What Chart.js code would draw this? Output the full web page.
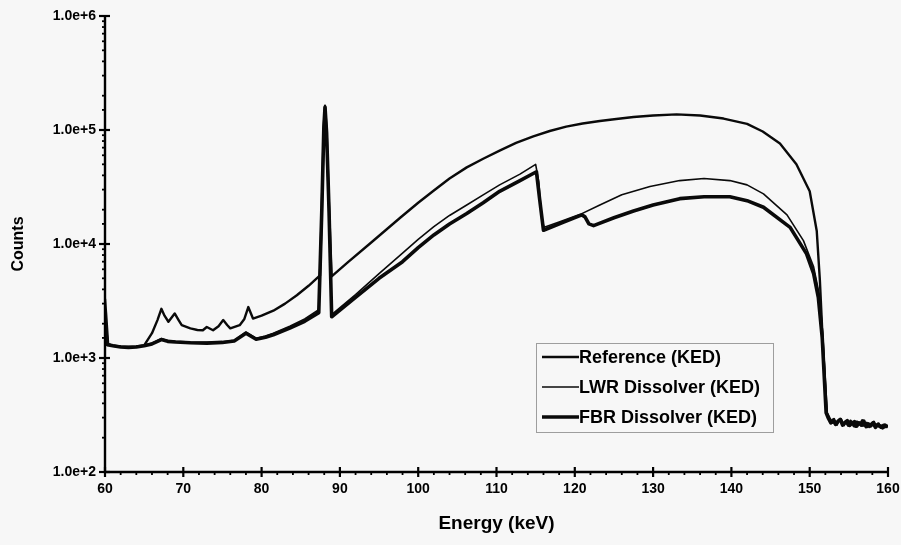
<!DOCTYPE html>
<html><head><meta charset="utf-8">
<script src="https://cdn.jsdelivr.net/npm/chart.js@4.4.0/dist/chart.umd.min.js"></script>
<style>html,body{margin:0;padding:0;background:#f7f7f7;}#wrap{width:901px;height:545px;}</style>
</head><body><div id="wrap"><canvas id="c" width="901" height="545"></canvas></div>
<script>
// ---------- data ----------
const refEnergy = [60.0,60.15,60.4,61,62,63,64,65.0,66,66.7,67.2,67.6,68.1,68.9,69.4,69.8,70.9,71.8,72.5,73.0,73.8,74.5,75.1,75.6,76.0,77.2,77.8,78.3,78.9,80,81.5,83,84.5,86,87.46,87.7,87.95,88.1,88.3,88.6,88.95,91,94,97.7,100,102,104,106.2,108.3,110.4,112.5,114.7,116.8,118.9,121,123.2,125.3,127.5,130,133,136,139,142,144,146.2,148.3,150,150.9,151.3,151.7,152.2,
  152.5,152.8,153.1,153.4,153.7,154.0,154.3,154.6,154.9,155.2,155.5,155.8,156.1,156.4,156.7,157.0,157.3,157.6,157.9,158.2,158.5,158.8,159.1,159.4,159.7,160];
const refCounts = [3300,2400,1320,1280,1260,1250,1260,1290,1650,2150,2700,2350,2080,2460,2150,1940,1820,1760,1750,1870,1750,1900,2150,1950,1820,1940,2200,2800,2220,2350,2600,3000,3550,4300,5300,22000,110000,163000,100000,22000,5200,6900,10300,17000,23000,29500,37500,47000,56000,66000,77000,88000,98000,107000,114000,120000,125000,130000,134000,137000,134000,126000,113000,97000,76000,50000,29000,13000,4800,1250,330,
  300,275,292,262,282,290,262,275,255,282,268,250,276,262,284,256,270,248,266,276,250,266,244,260,248,256];

const lwrEnergy = [60.0,60.3,61,62,63,64,65,66,67.2,68,69,70.9,73,75,76.5,78.0,79.3,80.5,81.5,83.6,85.5,87.3,87.7,87.95,88.1,88.3,88.6,88.95,92,95,98,100,102,104,106.2,108.3,110.4,113,115.0,115.4,115.8,116.1,118,120.7,123.2,126,129.6,133.4,136.5,139.8,142,144.1,147.1,149.2,150.5,151.3,151.7,152.2,
  152.6,152.9,153.2,153.5,153.8,154.1,154.4,154.7,155.0,155.3,155.6,155.9,156.2,156.5,156.8,157.1,157.4,157.7,158.0,158.3,158.6,158.9,159.2,159.5,159.8,160];
const lwrCounts = [2200,1330,1290,1260,1250,1260,1290,1350,1480,1420,1400,1380,1370,1390,1430,1690,1490,1560,1650,1900,2200,2650,22000,110000,160000,100000,22000,2400,3600,5500,8300,11000,14200,17800,22000,27000,33000,41000,50000,35000,16000,14000,15600,18200,22000,27000,32000,36000,37500,36000,33000,27500,18000,10700,6300,3400,1500,330,
  285,268,280,258,286,270,255,278,262,272,250,280,258,270,252,268,246,262,272,250,262,246,258,244,254,250];

const fbrEnergy = [60.0,60.3,61,62,63,64,65,66,67.2,68,69,70.9,73,75,76.5,78.0,79.3,80.5,81.5,83.6,85.5,87.3,87.7,87.95,88.1,88.3,88.6,88.95,92,95,98,100,102,104,106.2,108.3,110.4,113,115.1,115.5,116.0,118.5,120.9,121.3,121.8,122.4,125,127.5,130,133.4,136.5,139.8,142,144.1,147.5,149.6,150.5,151.1,151.6,152.1,
  152.4,152.7,153.0,153.3,153.6,153.9,154.2,154.5,154.8,155.1,155.4,155.7,156.0,156.3,156.6,156.9,157.2,157.5,157.8,158.1,158.4,158.7,159.0,159.3,159.6,160];
const fbrCounts = [2000,1310,1280,1250,1240,1250,1280,1330,1450,1400,1380,1360,1350,1370,1410,1650,1460,1520,1600,1830,2100,2500,21000,105000,158000,95000,21000,2300,3400,5000,7000,9300,12000,15000,18500,23000,29000,36000,43000,25000,13200,15500,18000,17300,15000,14500,17000,19500,22000,25000,26000,26000,24000,21000,14000,8200,5500,3400,1500,330,
  295,270,285,262,278,290,258,272,282,256,268,276,252,270,258,280,250,264,254,270,246,262,252,244,258,248];

const seriesLabels = ['Reference (KED)', 'LWR Dissolver (KED)', 'FBR Dissolver (KED)'];
const xTickStep = 10;
const xMinorStep = 2;
const yTickLabels = {100:'1.0e+2', 1000:'1.0e+3', 10000:'1.0e+4', 100000:'1.0e+5', 1000000:'1.0e+6'};

// ---------- build ----------
const zip = (xs, ys) => xs.map((x, i) => ({x, y: ys[i]}));
const widths = [2.4, 1.6, 3.6];
const ink = '#0a0a0a';
const datasets = [
  {label: seriesLabels[0], data: zip(refEnergy, refCounts)},
  {label: seriesLabels[1], data: zip(lwrEnergy, lwrCounts)},
  {label: seriesLabels[2], data: zip(fbrEnergy, fbrCounts)}
].map((d, i) => Object.assign(d, {borderColor: ink, borderWidth: widths[i], pointRadius: 0, tension: 0, fill: false, borderJoinStyle: 'round'}));

const FONT = 'Liberation Sans, Arial, sans-serif';
const isPow10 = v => Math.abs(Math.log10(v) - Math.round(Math.log10(v))) < 1e-9;

const decor = {
  id: 'decor',
  afterDraw(chart) {
    const {ctx, chartArea: {left, right, top, bottom}, scales: {x, y}} = chart;
    ctx.save();
    ctx.strokeStyle = '#000';
    ctx.lineCap = 'butt';
    ctx.lineWidth = 2.4;
    ctx.beginPath(); ctx.moveTo(left, top); ctx.lineTo(left, bottom); ctx.lineTo(right, bottom); ctx.stroke();
    // y ticks
    y.ticks.forEach(t => {
      const p = y.getPixelForValue(t.value);
      const major = isPow10(t.value);
      ctx.lineWidth = major ? 2.2 : 1.8;
      ctx.beginPath();
      ctx.moveTo(left - (major ? 6 : 3), p);
      ctx.lineTo(left + (major ? 5 : 1), p);
      ctx.stroke();
    });
    // x ticks
    for (let v = x.min; v <= x.max + 1e-9; v += xMinorStep) {
      const p = x.getPixelForValue(v);
      const major = Math.abs(v / xTickStep - Math.round(v / xTickStep)) < 1e-9;
      ctx.lineWidth = major ? 2.2 : 1.8;
      ctx.beginPath();
      ctx.moveTo(p, bottom - (major ? 5 : 1));
      ctx.lineTo(p, bottom + (major ? 5 : 3));
      ctx.stroke();
    }
    // legend
    const bx = 536, by = 343, bw = 237, bh = 89;
    ctx.setLineDash([1, 1]);
    ctx.lineWidth = 1;
    ctx.strokeStyle = '#444';
    ctx.strokeRect(bx + 0.5, by + 0.5, bw, bh);
    ctx.setLineDash([]);
    const rows = [357, 387, 417];
    ctx.font = 'bold 18px ' + FONT;
    ctx.fillStyle = '#000';
    ctx.textBaseline = 'middle';
    ctx.textAlign = 'left';
    chart.data.datasets.forEach((ds, i) => {
      ctx.strokeStyle = ink;
      ctx.lineWidth = ds.borderWidth;
      ctx.beginPath(); ctx.moveTo(542, rows[i]); ctx.lineTo(579, rows[i]); ctx.stroke();
      ctx.fillText(ds.label, 579, rows[i] + 1);
    });
    ctx.restore();
  }
};

new Chart(document.getElementById('c'), {
  type: 'line',
  data: {datasets},
  options: {
    responsive: false,
    animation: false,
    layout: {padding: {left: 0, right: 13, top: 16, bottom: 0}},
    plugins: {legend: {display: false}, tooltip: {enabled: false}},
    scales: {
      x: {
        type: 'linear', min: 60, max: 160,
        ticks: {stepSize: xTickStep, color: '#000', font: {family: FONT, size: 14, weight: 'bold'}, padding: 9, maxRotation: 0, autoSkip: false},
        grid: {display: false, drawTicks: false},
        border: {display: false},
        title: {display: true, text: 'Energy (keV)', color: '#000', font: {family: FONT, size: 19, weight: 'bold'}, padding: {top: 0, bottom: 10}},
        afterFit(s) { s.height = 73; s.paddingLeft = 0; s.paddingRight = 0; }
      },
      y: {
        type: 'logarithmic', min: 100, max: 1000000,
        ticks: {color: '#000', font: {family: FONT, size: 14, weight: 'bold'}, padding: 9, autoSkip: false,
          callback: v => (yTickLabels[Math.round(v)] !== undefined && isPow10(v)) ? yTickLabels[Math.round(v)] : ''},
        grid: {display: false, drawTicks: false},
        border: {display: false},
        title: {display: true, text: 'Counts', color: '#000', font: {family: FONT, size: 16, weight: 'bold'}, padding: {top: 9, bottom: 0}},
        afterFit(s) { s.width = 105; s.paddingTop = 0; s.paddingBottom = 0; }
      }
    }
  },
  plugins: [decor]
});
</script>
</body></html>
